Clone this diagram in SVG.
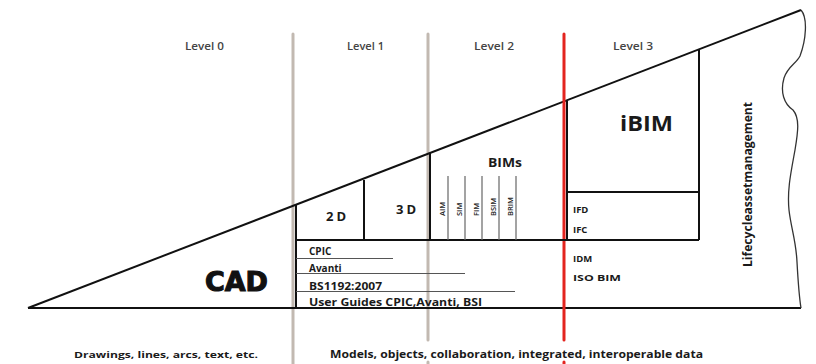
<svg xmlns="http://www.w3.org/2000/svg" width="816" height="364" viewBox="0 0 816 364">
<style>
.t{font-family:"Open Sans","Liberation Sans",sans-serif;fill:#1a1a1a;font-weight:bold}
.lv{font-family:"Open Sans","Liberation Sans",sans-serif;fill:#444;font-size:10px;font-weight:600}
.sm{font-family:"Open Sans","Liberation Sans",sans-serif;fill:#222;font-size:7.5px;font-weight:600}
.blk{stroke:#111;stroke-width:2;fill:none}
.thin{stroke:#555;stroke-width:1.2;fill:none}
.bim{stroke:#666;stroke-width:1.2}
.gray{stroke:#c2b9b1;stroke-width:3;stroke-linecap:round}
.red{stroke:#e3241f;stroke-width:3;stroke-linecap:round}
</style>
<rect width="816" height="364" fill="#fff"/>
<g id="connectors">
  <line class="gray" x1="293" y1="34" x2="293" y2="364"/>
  <line class="gray" x1="428" y1="34" x2="428" y2="340"/>
  <line class="gray" x1="428" y1="362" x2="428" y2="366"/>
  <path class="blk" d="M28,308 L801,10"/>
  <path class="blk" d="M28,308 L801,308"/>
  <path stroke="#333" stroke-width="1.3" fill="none" d="M801,10 C808,18 806,40 800,56 C796,64 788,66 784,78 C780,92 784,104 793,110 C800,118 798,132 795,150 C791,172 787,190 789,210 C791,228 796,240 797,262 C798,280 799,296 801,308"/>
  <line class="red" x1="564" y1="34" x2="564" y2="340"/>
  <line class="red" x1="564" y1="362" x2="564" y2="366"/>
</g>
<g id="inner-frame">
  <path class="blk" d="M296,205 L296,308"/>
  <path class="blk" d="M296,240 L699,240"/>
  <path class="blk" d="M364,180 L364,240"/>
  <path class="blk" d="M430,153 L430,240"/>
  <path class="blk" d="M567,101 L567,240"/>
  <path class="blk" d="M699,49 L699,240"/>
  <path class="blk" d="M567,192 L699,192"/>
</g>
<g id="levels">
  <text class="lv" x="185" y="50" textLength="39" lengthAdjust="spacingAndGlyphs">Level 0</text>
  <text class="lv" x="347" y="50" textLength="37" lengthAdjust="spacingAndGlyphs">Level 1</text>
  <text class="lv" x="474" y="50" textLength="40" lengthAdjust="spacingAndGlyphs">Level 2</text>
  <text class="lv" x="613" y="50" textLength="40" lengthAdjust="spacingAndGlyphs">Level 3</text>
</g>
<g id="cad">
  <text x="205" y="291" font-family="'DejaVu Sans',sans-serif" font-weight="bold" font-size="26" fill="#111" stroke="#111" stroke-width="1.1" textLength="63" lengthAdjust="spacingAndGlyphs">CAD</text>
</g>
<g id="node-2d"><text class="t" x="326" y="221" font-size="13" textLength="20" lengthAdjust="spacing">2D</text></g>
<g id="node-3d"><text class="t" x="396" y="214" font-size="13" textLength="20" lengthAdjust="spacing">3D</text></g>
<g id="node-bims">
  <text class="t" x="488" y="167" font-size="12.5" textLength="34" lengthAdjust="spacingAndGlyphs">BIMs</text>
  <line class="bim" x1="448" y1="176" x2="448" y2="240"/>
  <line class="bim" x1="465" y1="176" x2="465" y2="240"/>
  <line class="bim" x1="482" y1="176" x2="482" y2="240"/>
  <line class="bim" x1="499" y1="176" x2="499" y2="240"/>
  <line class="bim" x1="516" y1="176" x2="516" y2="240"/>
  <text class="sm" transform="translate(444.5,216) rotate(-90)">AIM</text>
  <text class="sm" transform="translate(461.5,216) rotate(-90)">SIM</text>
  <text class="sm" transform="translate(478.5,216) rotate(-90)">FIM</text>
  <text class="sm" transform="translate(495.5,216) rotate(-90)">BSIM</text>
  <text class="sm" transform="translate(512.5,216) rotate(-90)">BRIM</text>
</g>
<g id="node-ibim"><text class="t" x="620" y="131" font-size="21" textLength="53" lengthAdjust="spacingAndGlyphs">iBIM</text></g>
<g id="node-ifd">
  <text class="t" x="573" y="213" font-size="9.5">IFD</text>
  <text class="t" x="573" y="233" font-size="9.5">IFC</text>
</g>
<g id="node-idm">
  <text class="t" x="573" y="262" font-size="9.5">IDM</text>
  <text class="t" x="573" y="281" font-size="9.5" textLength="48" lengthAdjust="spacingAndGlyphs">ISO BIM</text>
</g>
<g id="node-standards">
  <text class="t" x="309" y="255" font-size="10">CPIC</text>
  <line class="thin" x1="296" y1="258.5" x2="393" y2="258.5"/>
  <text class="t" x="309" y="272" font-size="10">Avanti</text>
  <line class="thin" x1="296" y1="273.5" x2="465" y2="273.5"/>
  <text class="t" x="309" y="290" font-size="10" textLength="73" lengthAdjust="spacingAndGlyphs">BS1192:2007</text>
  <line class="thin" x1="296" y1="291.5" x2="515" y2="291.5"/>
  <text class="t" x="309" y="306" font-size="10" textLength="173" lengthAdjust="spacingAndGlyphs">User Guides CPIC,Avanti, BSI</text>
</g>
<g id="node-lifecycle">
  <text class="t" font-size="11.5" transform="translate(752,267) rotate(-90)" textLength="165" lengthAdjust="spacingAndGlyphs">Lifecycleassetmanagement</text>
</g>
<g id="captions">
  <text class="t" x="74" y="358" font-size="9.5" textLength="184" lengthAdjust="spacingAndGlyphs">Drawings, lines, arcs, text, etc.</text>
  <text class="t" x="330" y="358" font-size="10.5" textLength="373" lengthAdjust="spacingAndGlyphs">Models, objects, collaboration, integrated, interoperable data</text>
</g>
</svg>
